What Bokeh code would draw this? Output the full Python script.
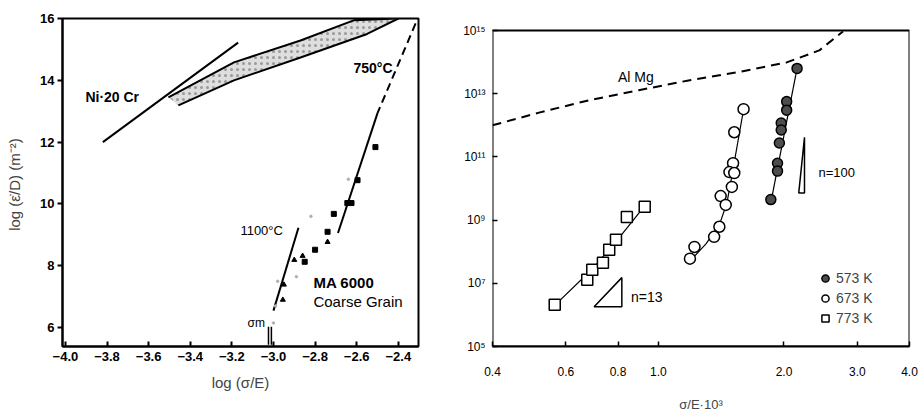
from bokeh.plotting import figure
from bokeh.models import Range1d, FixedTicker, Legend, LegendItem, Label, BoxAnnotation
from bokeh.layouts import row
from bokeh.embed import file_html
from bokeh.resources import INLINE
from bokeh.core.properties import value

# ---------------- Left panel data (log sigma/E vs log(edot/D)) ----------------
ni20cr_x = [-3.82, -3.17]
ni20cr_y = [12.0, 15.22]
band_upper_x = [-3.505, -3.19, -2.87, -2.615, -2.40]
band_upper_y = [13.45, 14.58, 15.29, 15.94, 16.0]
band_lower_x = [-3.457, -3.19, -2.87, -2.55, -2.40]
band_lower_y = [13.19, 14.0, 14.74, 15.5, 16.0]
t750_dash_x = [-2.317, -2.50]
t750_dash_y = [15.84, 12.94]
t750_solid_x = [-2.50, -2.69]
t750_solid_y = [12.94, 9.06]
t1100_x = [-2.88, -3.0]
t1100_y = [9.23, 6.55]
sq_x = [-2.51, -2.596, -2.645, -2.625, -2.71, -2.74, -2.80, -2.85]
sq_y = [11.84, 10.77, 10.03, 10.03, 9.68, 9.10, 8.52, 8.13]
tri_x = [-2.74, -2.86, -2.90, -2.95, -2.955]
tri_y = [8.77, 8.32, 8.19, 7.39, 6.90]
faint_x = [-2.82, -2.89, -2.98, -3.0, -2.64, -2.99]
faint_y = [9.60, 7.65, 7.50, 6.15, 10.8, 6.7]
sigm_x = [-3.024, -3.010]
sigm_y0 = [5.45, 5.45]
sigm_y1 = [6.03, 6.03]
left_xticks = [-4.0, -3.8, -3.6, -3.4, -3.2, -3.0, -2.8, -2.6, -2.4]
left_xlabels = ["\u22124.0", "\u22123.8", "\u22123.6", "\u22123.4", "\u22123.2",
                "\u22123.0", "\u22122.8", "\u22122.6", "\u22122.4"]
left_yticks = [6, 8, 10, 12, 14, 16]

# ---------------- Right panel data (sigma/E*1e3 vs rate) ----------------
almg_x = [0.40, 0.52, 0.68, 0.897, 1.18, 1.55, 2.03, 2.43, 2.77]
almg_logy = [12.0, 12.41, 12.79, 13.11, 13.42, 13.68, 13.99, 14.37, 14.97]
k573_x = [2.15, 2.03, 2.03, 1.97, 1.97, 1.95, 1.93, 1.93, 1.86]
k573_logy = [13.80, 12.75, 12.48, 12.07, 11.85, 11.44, 10.80, 10.55, 9.65]
k573_fit_x = [1.86, 2.15]
k573_fit_logy = [9.55, 13.80]
k673_x = [1.60, 1.52, 1.51, 1.48, 1.52, 1.50, 1.41, 1.45, 1.40, 1.36, 1.22, 1.19]
k673_logy = [12.51, 11.78, 10.80, 10.52, 10.49, 10.05, 9.76, 9.48, 8.79, 8.47, 8.15, 7.78]
k673_fit_x = [1.19, 1.30, 1.40, 1.46, 1.50, 1.60]
k673_fit_logy = [7.70, 8.25, 8.85, 9.55, 10.4, 12.5]
k773_x = [0.564, 0.675, 0.694, 0.736, 0.762, 0.791, 0.840, 0.927]
k773_logy = [6.32, 7.11, 7.43, 7.65, 8.06, 8.38, 9.10, 9.42]
k773_fit_x = [0.564, 0.70, 0.80, 0.927]
k773_fit_logy = [6.30, 7.50, 8.40, 9.45]
n13_x = [0.701, 0.817, 0.817, 0.701]
n13_logy = [6.26, 7.18, 6.26, 6.26]
n100_x = [2.17, 2.24, 2.24, 2.17]
n100_logy = [9.86, 11.62, 9.86, 9.86]
right_xticks = [0.4, 0.6, 0.8, 1.0, 2.0, 3.0, 4.0]
right_xlabels = ["0.4", "0.6", "0.8", "1.0", "2.0", "3.0", "4.0"]
right_yticks = [1e5, 1e7, 1e9, 1e11, 1e13, 1e15]
right_ylabels = ["10\u2075", "10\u2077", "10\u2079", "10\u00b9\u00b9", "10\u00b9\u00b3", "10\u00b9\u2075"]
right_xmin, right_xmax = 0.4, 4.0
right_ymin, right_ymax = 1e5, 1e15

FONT = "Liberation Sans"

def pw(v):
    return [10 ** t for t in v]

# ---------------- Left figure ----------------
p1 = figure(width=440, height=416, output_backend="svg", toolbar_location=None,
            x_range=Range1d(-4.014, -2.303), y_range=Range1d(5.39, 16.0),
            min_border_left=62, min_border_right=22, min_border_top=18, min_border_bottom=70)
p1.grid.visible = False
p1.outline_line_color = "black"
p1.outline_line_width = 2
p1.background_fill_color = "white"
p1.border_fill_color = "white"

p1.xaxis.ticker = FixedTicker(ticks=left_xticks)
p1.xaxis.major_label_overrides = {t: l for t, l in zip(left_xticks, left_xlabels)}
p1.yaxis.ticker = FixedTicker(ticks=left_yticks)
for ax in (p1.xaxis, p1.yaxis):
    ax.axis_line_width = 2
    ax.major_tick_line_width = 2
    ax.minor_tick_line_color = None
    ax.major_label_text_font = FONT
    ax.major_label_text_font_style = "bold"
    ax.major_label_text_font_size = "13px"
    ax.major_label_text_color = "black"
    ax.axis_label_text_font = FONT
    ax.axis_label_text_font_style = "normal"
    ax.axis_label_text_font_size = "15px"
p1.xaxis.major_tick_in = 5
p1.xaxis.major_tick_out = 0
p1.xaxis.major_label_standoff = 5
p1.xaxis.axis_label = "log (\u03c3/E)"
p1.xaxis.axis_label_standoff = 10
p1.yaxis.major_tick_in = 0
p1.yaxis.major_tick_out = 5
p1.yaxis.major_label_standoff = 3
p1.yaxis.axis_label = "log (\u03b5\u0307/D)  (m\u207b\u00b2)"
p1.yaxis.axis_label_standoff = 14

band_x = band_upper_x + band_lower_x[::-1]
band_y = band_upper_y + band_lower_y[::-1]
p1.patch(band_x, band_y, fill_color="#dedede", line_color=None,
         hatch_pattern="dot", hatch_color="#9a9a9a", hatch_scale=6)
p1.line(band_upper_x, band_upper_y, line_color="black", line_width=2)
p1.line(band_lower_x, band_lower_y, line_color="black", line_width=2)
p1.line(ni20cr_x, ni20cr_y, line_color="black", line_width=2)
p1.line(t750_dash_x, t750_dash_y, line_color="black", line_width=2, line_dash="8 5")
p1.line(t750_solid_x, t750_solid_y, line_color="black", line_width=2)
p1.line(t1100_x, t1100_y, line_color="black", line_width=2)
p1.scatter(faint_x, faint_y, marker="circle", size=2.5, color="#b0b0b0")
p1.scatter(sq_x, sq_y, marker="square", size=5, color="black")
p1.scatter(tri_x, tri_y, marker="triangle", size=5, color="black")
p1.segment(sigm_x, sigm_y0, sigm_x, sigm_y1, line_color="black", line_width=1.5)

def lab(p, x, y, txt, size, bold=False, align="left", font=FONT):
    p.add_layout(Label(x=x, y=y, text=txt, text_font=font, text_font_size=size,
                       text_font_style="bold" if bold else "normal",
                       text_align=align, text_baseline="middle", text_color="black"))

lab(p1, -3.904, 13.45, "Ni\u00b720 Cr", "14px", bold=True)
lab(p1, -2.428, 14.39, "750\u00b0C", "14px", bold=True, align="right")
lab(p1, -3.159, 9.13, "1100\u00b0C", "13px")
lab(p1, -2.808, 7.45, "MA 6000", "15px", bold=True)
lab(p1, -2.808, 6.84, "Coarse Grain", "15px")
lab(p1, -3.125, 6.16, "\u03c3m", "12px")

# ---------------- Right figure ----------------
# frame shares top/bottom borders with the left figure (row aligns frames);
# the upper range is extended so that the drawn box ends at 1e15
p2 = figure(width=479, height=416, output_backend="svg", toolbar_location=None,
            x_axis_type="log", y_axis_type="log",
            x_range=Range1d(right_xmin, right_xmax), y_range=Range1d(right_ymin, 10 ** 15.38),
            min_border_left=52, min_border_right=10, min_border_top=18, min_border_bottom=70)
p2.grid.visible = False
p2.outline_line_color = None
p2.background_fill_color = "white"
p2.border_fill_color = "white"
p2.xaxis.ticker = FixedTicker(ticks=right_xticks)
p2.xaxis.major_label_overrides = {t: l for t, l in zip(right_xticks, right_xlabels)}
p2.yaxis.ticker = FixedTicker(ticks=right_yticks)
p2.yaxis.major_label_overrides = {t: l for t, l in zip(right_yticks, right_ylabels)}
for ax in (p2.xaxis, p2.yaxis):
    ax.axis_line_width = 2
    ax.major_tick_line_width = 1.5
    ax.minor_tick_line_color = None
    ax.major_tick_in = 5
    ax.major_tick_out = 0
    ax.major_label_text_font = FONT
    ax.major_label_text_font_size = "12px"
    ax.major_label_text_color = "black"
    ax.axis_label_text_font = FONT
    ax.axis_label_text_font_style = "normal"
    ax.axis_label_text_font_size = "13px"
p2.yaxis.axis_line_color = None
p2.xaxis.major_label_standoff = 20
p2.xaxis.axis_label = "\u03c3/E\u00b710\u00b3"
p2.xaxis.axis_label_standoff = 18
p2.yaxis.major_label_standoff = 7
p2.add_layout(BoxAnnotation(left=right_xmin, right=right_xmax, bottom=right_ymin, top=right_ymax,
                            fill_alpha=0, line_color="black", line_width=2, line_alpha=1))

p2.line(almg_x, pw(almg_logy), line_color="black", line_width=2, line_dash="9 6")
p2.line(k573_fit_x, pw(k573_fit_logy), line_color="black", line_width=1.2)
p2.line(k673_fit_x, pw(k673_fit_logy), line_color="black", line_width=1.2)
p2.line(k773_fit_x, pw(k773_fit_logy), line_color="black", line_width=1.2)
r573 = p2.scatter(k573_x, pw(k573_logy), marker="circle", size=10,
                  fill_color="#4d4d4d", line_color="black", line_width=1.5)
r673 = p2.scatter(k673_x, pw(k673_logy), marker="circle", size=11,
                  fill_color="white", line_color="black", line_width=1.5)
r773 = p2.scatter(k773_x, pw(k773_logy), marker="square", size=11,
                  fill_color="white", line_color="black", line_width=1.5)
p2.patch(n13_x, pw(n13_logy), fill_color=None, line_color="black", line_width=1.5)
p2.patch(n100_x, pw(n100_logy), fill_color=None, line_color="black", line_width=1.5)

lab(p2, 0.80, 10 ** 13.52, "Al Mg", "14px")
lab(p2, 0.859, 10 ** 6.58, "n=13", "14px")
lab(p2, 2.42, 10 ** 10.52, "n=100", "13px")

legend = Legend(items=[LegendItem(label="573 K", renderers=[r573]),
                       LegendItem(label="673 K", renderers=[r673]),
                       LegendItem(label="773 K", renderers=[r773])],
                location=(324, 18), border_line_alpha=0, background_fill_alpha=0,
                padding=0, spacing=0, glyph_width=18, glyph_height=20, label_height=20,
                label_text_font=FONT, label_text_font_size="14px", label_standoff=2,
                margin=0)
p2.add_layout(legend, "center")

layout = row(p1, p2)
open("out.html", "w").write(file_html(layout, INLINE))
